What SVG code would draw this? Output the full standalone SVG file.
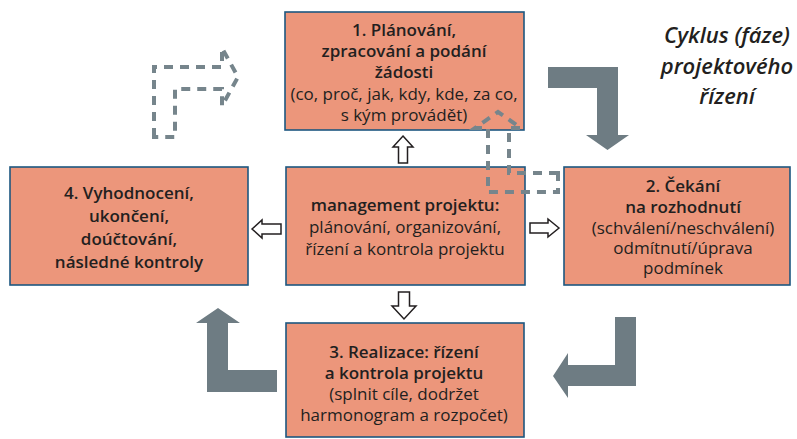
<svg xmlns="http://www.w3.org/2000/svg" width="797" height="439" viewBox="0 0 797 439">
<style>
.box{fill:#ec967b;stroke:#1d5780;stroke-width:1.6}
.t{font-family:"Open Sans",Lato,sans-serif;font-size:17px;fill:#231f20;text-anchor:middle}
.b{font-weight:600}
.title{font-family:"Open Sans",Lato,sans-serif;font-size:22px;font-weight:600;font-style:italic;fill:#231f20;text-anchor:middle}
.big{fill:#6e7c83}
.dash{fill:none;stroke:#76858c;stroke-width:4;stroke-dasharray:9 7}
.hollow{fill:#fff;stroke:#231f20;stroke-width:1.5;stroke-linejoin:miter}
</style>
<rect width="797" height="439" fill="#fff"/>
<g id="title">
<text class="title" x="727" y="43">Cyklus (fáze)</text>
<text class="title" x="727" y="74">projektového</text>
<text class="title" x="727" y="104">řízení</text>
</g>
<g id="node1">
<rect class="box" x="285" y="12" width="239" height="118"/>
<text class="t b" x="404" y="36">1. Plánování,</text>
<text class="t b" x="404" y="57">zpracování a podání</text>
<text class="t b" x="404" y="78">žádosti</text>
<text class="t" x="404" y="100">(co, proč, jak, kdy, kde, za co,</text>
<text class="t" x="404" y="121">s kým provádět)</text>
</g>
<g id="node4">
<rect class="box" x="10" y="167" width="238" height="118"/>
<text class="t b" x="129" y="199">4. Vyhodnocení,</text>
<text class="t b" x="129" y="222">ukončení,</text>
<text class="t b" x="129" y="245">doúčtování,</text>
<text class="t b" x="129" y="268">následné kontroly</text>
</g>
<g id="center">
<rect class="box" x="286" y="167" width="239" height="118"/>
<text class="t b" x="405" y="211">management projektu:</text>
<text class="t" x="405" y="233">plánování, organizování,</text>
<text class="t" x="405" y="255">řízení a kontrola projektu</text>
</g>
<g id="node2">
<rect class="box" x="564" y="167" width="226" height="118"/>
<text class="t b" x="683" y="192">2. Čekání</text>
<text class="t b" x="683" y="213">na rozhodnutí</text>
<text class="t" x="683" y="234">(schválení/neschválení)</text>
<text class="t" x="683" y="254">odmítnutí/úprava</text>
<text class="t" x="683" y="274">podmínek</text>
</g>
<g id="node3">
<rect class="box" x="286" y="323" width="238" height="114"/>
<text class="t b" x="404" y="358">3. Realizace: řízení</text>
<text class="t b" x="404" y="379">a kontrola projektu</text>
<text class="t" x="404" y="400">(splnit cíle, dodržet</text>
<text class="t" x="404" y="421">harmonogram a rozpočet)</text>
</g>
<g id="connectors">
<path class="big" d="M548,67 L618,67 L618,135 L629,135 L607.5,150 L586,135 L597,135 L597,88 L548,88 Z"/>
<path class="big" d="M615,317 L636,317 L636,386 L568,386 L568,398 L553,376 L568,353 L568,365 L615,365 Z"/>
<path class="big" d="M207,392 L207,323 L196,323 L218,308 L240,323 L228,323 L228,370 L277,370 L277,392 Z"/>
<path class="dash" d="M154,137 L154,67 L222,67 L222,48 L238,77 L222,106 L222,89 L175,89 L175,137 Z"/>
<path class="dash" d="M558,173 L509,173 L509,128 L521,128 L498,112 L475,128 L488,128 L488,192 L558,192 Z"/>
<path class="hollow" d="M403,136 L413,147 L407.5,147 L407.5,163 L398.5,163 L398.5,147 L393,147 Z"/>
<path class="hollow" d="M398.5,292 L409.5,292 L409.5,306 L416,306 L404,319 L392,306 L398.5,306 Z"/>
<path class="hollow" d="M252,229 L262,220 L262,224 L281,224 L281,234 L262,234 L262,238 Z"/>
<path class="hollow" d="M559,228 L548,219 L548,223 L530,223 L530,233 L548,233 L548,237 Z"/>
</g>
</svg>
